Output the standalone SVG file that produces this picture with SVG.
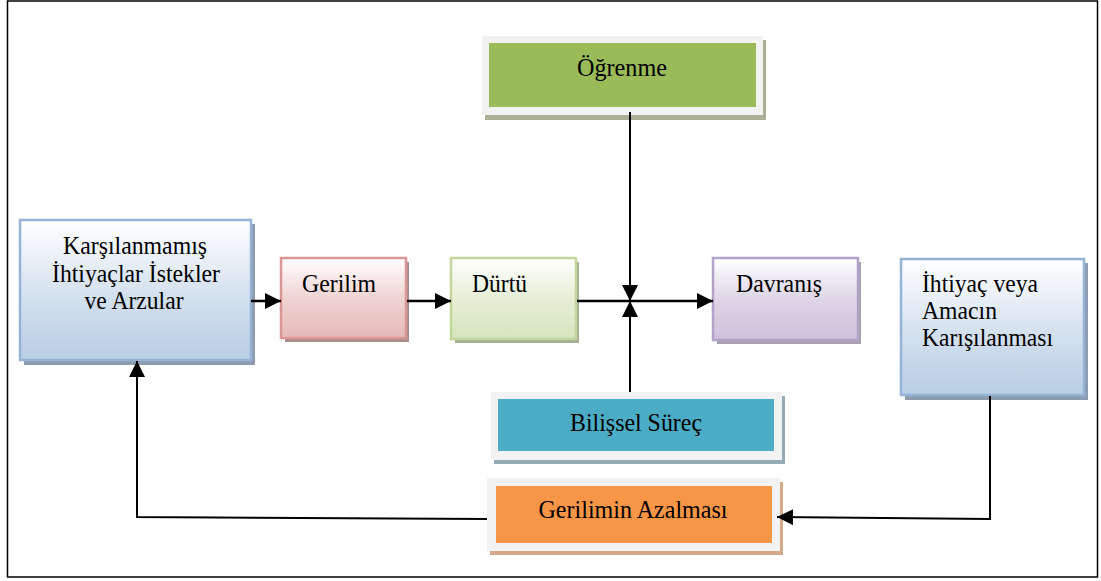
<svg xmlns="http://www.w3.org/2000/svg" width="1101" height="581" viewBox="0 0 1101 581">
  <style>
    .lbl { font-family: "Liberation Serif", "DejaVu Serif", serif; font-size: 25px; fill: #000; }
    .mid { text-anchor: middle; }
    .conn { fill: none; stroke: #000; stroke-width: 2; }
    .thick { stroke-width: 2.5; }
    .frame { fill: #f2f2f2; }
  </style>
  <defs>
    <linearGradient id="gBlue" x1="0" y1="0" x2="0" y2="1">
      <stop offset="0" stop-color="#ffffff"/>
      <stop offset="0.55" stop-color="#d3e0ee"/>
      <stop offset="1" stop-color="#b9cde5"/>
    </linearGradient>
    <linearGradient id="gRed" x1="0" y1="0" x2="0" y2="1">
      <stop offset="0" stop-color="#ffffff"/>
      <stop offset="0.5" stop-color="#f0d3d3"/>
      <stop offset="1" stop-color="#e6b9b8"/>
    </linearGradient>
    <linearGradient id="gGreen" x1="0" y1="0" x2="0" y2="1">
      <stop offset="0" stop-color="#ffffff"/>
      <stop offset="0.5" stop-color="#e6eed6"/>
      <stop offset="1" stop-color="#d7e4bd"/>
    </linearGradient>
    <linearGradient id="gPurple" x1="0" y1="0" x2="0" y2="1">
      <stop offset="0" stop-color="#ffffff"/>
      <stop offset="0.5" stop-color="#ddd5e6"/>
      <stop offset="1" stop-color="#ccc1da"/>
    </linearGradient>
    <marker id="arrow" markerUnits="userSpaceOnUse" markerWidth="18" markerHeight="18" refX="16" refY="8" orient="auto">
      <path d="M0,0 L16,8 L0,16 Z" fill="#000"/>
    </marker>
  </defs>

  <!-- outer frame -->
  <rect x="7.5" y="1" width="1090" height="576" fill="#ffffff" stroke="#000" stroke-width="1.5"/>

  <!-- Öğrenme -->
  <g id="ogrenme">
    <rect x="485" y="40" width="281" height="80" fill="#a9b095"/>
    <rect class="frame" x="482" y="36" width="281" height="79"/>
    <rect x="489" y="43" width="267" height="64" fill="#9bbb59"/>
    <text class="lbl mid" x="622" y="76" textLength="90" lengthAdjust="spacingAndGlyphs">Öğrenme</text>
  </g>

  <!-- Karşılanmamış İhtiyaçlar -->
  <g id="karsilanmamis">
    <rect x="24" y="224" width="231" height="141" fill="#8e9cb1"/>
    <rect x="20" y="220" width="231" height="140" fill="url(#gBlue)" stroke="#95b3d7" stroke-width="2.5"/>
    <text class="lbl mid" x="135" y="254" textLength="144" lengthAdjust="spacingAndGlyphs">Karşılanmamış</text>
    <text class="lbl mid" x="136" y="282" textLength="168" lengthAdjust="spacingAndGlyphs">İhtiyaçlar İstekler</text>
    <text class="lbl mid" x="134" y="309" textLength="99" lengthAdjust="spacingAndGlyphs">ve Arzular</text>
  </g>

  <!-- Gerilim -->
  <g id="gerilim">
    <rect x="285" y="262" width="124" height="80" fill="#a98c8c"/>
    <rect x="281" y="258" width="125" height="80" fill="url(#gRed)" stroke="#d99694" stroke-width="2.5"/>
    <text class="lbl" x="302" y="292" textLength="74" lengthAdjust="spacingAndGlyphs">Gerilim</text>
  </g>

  <!-- Dürtü -->
  <g id="durtu">
    <rect x="455" y="262" width="124" height="81" fill="#a6ad95"/>
    <rect x="451" y="258" width="125" height="81" fill="url(#gGreen)" stroke="#c3d69b" stroke-width="2.5"/>
    <text class="lbl" x="472" y="292" textLength="55" lengthAdjust="spacingAndGlyphs">Dürtü</text>
  </g>

  <!-- Davranış -->
  <g id="davranis">
    <rect x="717" y="262" width="144" height="82" fill="#a8a0b0"/>
    <rect x="713" y="258" width="145" height="82" fill="url(#gPurple)" stroke="#b3a2c7" stroke-width="2.5"/>
    <text class="lbl" x="736" y="292" textLength="86" lengthAdjust="spacingAndGlyphs">Davranış</text>
  </g>

  <!-- İhtiyaç veya Amacın Karşılanması -->
  <g id="ihtiyac">
    <rect x="905" y="263" width="183" height="137" fill="#8e9cb1"/>
    <rect x="901" y="259" width="183" height="136" fill="url(#gBlue)" stroke="#95b3d7" stroke-width="2.5"/>
    <text class="lbl" x="922" y="292" textLength="116" lengthAdjust="spacingAndGlyphs">İhtiyaç veya</text>
    <text class="lbl" x="922" y="319" textLength="75" lengthAdjust="spacingAndGlyphs">Amacın</text>
    <text class="lbl" x="922" y="346" textLength="131" lengthAdjust="spacingAndGlyphs">Karışılanması</text>
  </g>

  <!-- Bilişsel Süreç -->
  <g id="bilissel">
    <rect x="494" y="396" width="291" height="68" fill="#94aab5"/>
    <rect class="frame" x="491" y="392" width="291" height="68"/>
    <rect x="498" y="399" width="276" height="52" fill="#4bacc6"/>
    <text class="lbl mid" x="636" y="431" textLength="132" lengthAdjust="spacingAndGlyphs">Bilişsel Süreç</text>
  </g>

  <!-- Gerilimin Azalması -->
  <g id="gerilimin-azalmasi">
    <rect x="490" y="482" width="293" height="73" fill="#d4a98b"/>
    <rect class="frame" x="487" y="478" width="293" height="73"/>
    <rect x="496" y="486" width="276" height="57" fill="#f79646"/>
    <text class="lbl mid" x="633" y="518" textLength="189" lengthAdjust="spacingAndGlyphs">Gerilimin Azalması</text>
  </g>

  <!-- connectors -->
  <g id="connectors">
    <line class="conn thick" x1="251" y1="301" x2="281" y2="301" marker-end="url(#arrow)"/>
    <line class="conn thick" x1="407" y1="301" x2="451" y2="301" marker-end="url(#arrow)"/>
    <line class="conn thick" x1="577" y1="301" x2="713" y2="301" marker-end="url(#arrow)"/>
    <line class="conn" x1="630" y1="112" x2="630" y2="301" marker-end="url(#arrow)"/>
    <line class="conn" x1="630" y1="392" x2="630" y2="301" marker-end="url(#arrow)"/>
    <polyline class="conn" points="990,396 990,519 777,517" marker-end="url(#arrow)"/>
    <polyline class="conn" points="487,519 137,517 137,361" marker-end="url(#arrow)"/>
  </g>
</svg>
